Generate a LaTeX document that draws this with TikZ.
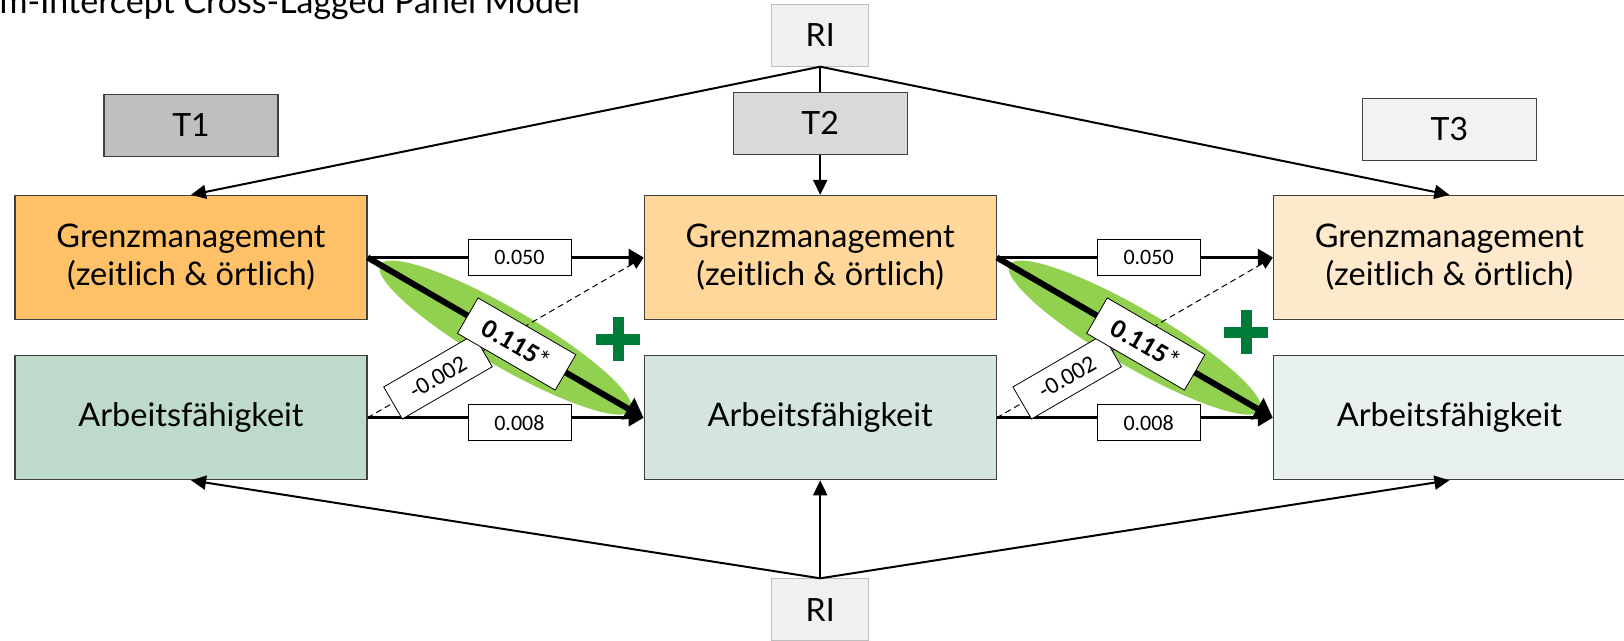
\documentclass[tikz,border=0pt]{standalone}
\usepackage{fontspec}
\setmainfont{Lato}
\newfontfamily\valfont{Carlito}
\usetikzlibrary{arrows.meta,positioning,shapes.geometric}
\definecolor{riclpGmA}{RGB}{255,193,104}
\definecolor{riclpGmB}{RGB}{255,215,155}
\definecolor{riclpGmC}{RGB}{255,233,204}
\definecolor{riclpAfA}{RGB}{190,218,203}
\definecolor{riclpAfB}{RGB}{211,229,220}
\definecolor{riclpAfC}{RGB}{232,241,236}
\definecolor{riclpTA}{RGB}{191,191,191}
\definecolor{riclpTB}{RGB}{217,217,217}
\definecolor{riclpTC}{RGB}{242,242,242}
\definecolor{riclpRi}{RGB}{240,240,240}
\definecolor{riclpRiLine}{RGB}{190,190,190}
\definecolor{riclpLine}{RGB}{64,64,64}
\definecolor{riclpHi}{RGB}{146,208,80}
\definecolor{riclpPlus}{RGB}{0,122,55}

\begin{document}
\begin{tikzpicture}[
    x=1pt, y=-1pt,
    node distance=35pt,
    panel/.style={draw=riclpLine, line width=1.2pt, align=center, minimum width=352pt, minimum height=124pt, inner sep=0pt, font=\fontsize{32.5}{38}\selectfont},
    timebox/.style={draw=riclpLine, line width=1.2pt, minimum width=174pt, minimum height=62pt, inner sep=0pt, font=\fontsize{32}{38}\selectfont},
    ribox/.style={draw=riclpRiLine, fill=riclpRi, line width=1pt, minimum width=97pt, minimum height=62pt, inner sep=0pt, font=\fontsize{32}{38}\selectfont},
    valbox/.style={draw=black, fill=white, solid, line width=0.8pt, minimum width=103pt, minimum height=36pt, inner sep=0pt, font=\valfont\fontsize{22}{26}\selectfont},
    crossbox/.style={valbox, minimum width=104pt, minimum height=37pt, font=\valfont\fontsize{24}{28}\selectfont},
    lagarrow/.style={-{Triangle[length=15pt,width=17pt]}, line width=2.5pt},
    keyarrow/.style={-{Triangle[length=18pt,width=24pt]}, line width=6pt},
    dasharrow/.style={-{Triangle[length=12pt,width=12pt]}, line width=1pt, dash pattern=on 6pt off 4pt},
    riarrow/.style={-{Triangle[length=15pt,width=14pt]}, line width=2pt},
    highlight/.style={ellipse, fill=riclpHi, minimum width=290pt, minimum height=58pt, inner sep=0pt},
    plusmark/.style={draw=riclpPlus, line width=11pt}
  ]
  \fill[white] (0,0) rectangle (1624,640);
  \useasboundingbox (0,0) rectangle (1624,640);
  \node[anchor=base west, font=\fontsize{34}{40}\selectfont] (title) at (-4,13) {m-Intercept Cross-Lagged Panel Model};

  % panels
  \node[panel, fill=riclpGmA] (gm1) at (191,257.5) {Grenzmanagement\\(zeitlich \& örtlich)};
  \node[panel, fill=riclpGmB, right=276pt of gm1] (gm2) {Grenzmanagement\\(zeitlich \& örtlich)};
  \node[panel, fill=riclpGmC, right=276pt of gm2] (gm3) {Grenzmanagement\\(zeitlich \& örtlich)};
  \node[panel, fill=riclpAfA, below=of gm1] (ab1) {Arbeitsfähigkeit};
  \node[panel, fill=riclpAfB, below=of gm2] (ab2) {Arbeitsfähigkeit};
  \node[panel, fill=riclpAfC, below=of gm3] (ab3) {Arbeitsfähigkeit};

  % time labels and random intercepts
  \node[timebox, fill=riclpTA, above=38pt of gm1] (t1) {T1};
  \node[timebox, fill=riclpTB, above=40pt of gm2] (t2) {T2};
  \node[timebox, fill=riclpTC, above=34pt of gm3] (t3) {T3};
  \node[ribox, above=25pt of t2] (ritop) {RI};
  \node[ribox, below=98pt of ab2] (ribot) {RI};

  % highlighted cross paths
  \path (gm1.east) -- node[highlight, sloped] (hl1) {} (ab2.west);
  \path (gm2.east) -- node[highlight, sloped] (hl2) {} (ab3.west);

  % random intercept paths
  \draw[riarrow] (ritop.south) -- (gm1.north);
  \draw[riarrow] (ritop.south) -- (gm3.north);
  \draw[line width=2pt] (ritop) -- (t2);
  \draw[riarrow] (t2) -- (gm2);
  \draw[riarrow] (ribot.north) -- (ab1.south);
  \draw[riarrow] (ribot) -- (ab2);
  \draw[riarrow] (ribot.north) -- (ab3.south);

  % autoregressive and cross-lagged paths
  \foreach \a/\b in {1/2, 2/3} {
    \draw[lagarrow] (gm\a) -- node[valbox, pos=0.55] {0.050} (gm\b);
    \draw[lagarrow] (ab\a) -- node[valbox, pos=0.55, yshift=-5pt] {0.008} (ab\b);
    \draw[dasharrow] (ab\a.east) -- node[crossbox, sloped, pos=0.255] {-0.002} (gm\b.west);
    \draw[keyarrow] (gm\a.east) -- node[crossbox, sloped, pos=0.54, minimum width=113pt, minimum height=41pt, font=\valfont\fontsize{27}{30}\selectfont] {\textbf{0.115}*} (ab\b.west);
  }

  % plus signs
  \coordinate (pl1) at (618,339);
  \coordinate (pl2) at (1246,332);
  \foreach \p in {pl1, pl2}
    \draw[plusmark] (\p) +(-22,0) -- +(22,0) (\p) +(0,-22) -- +(0,22);
\end{tikzpicture}
\end{document}
